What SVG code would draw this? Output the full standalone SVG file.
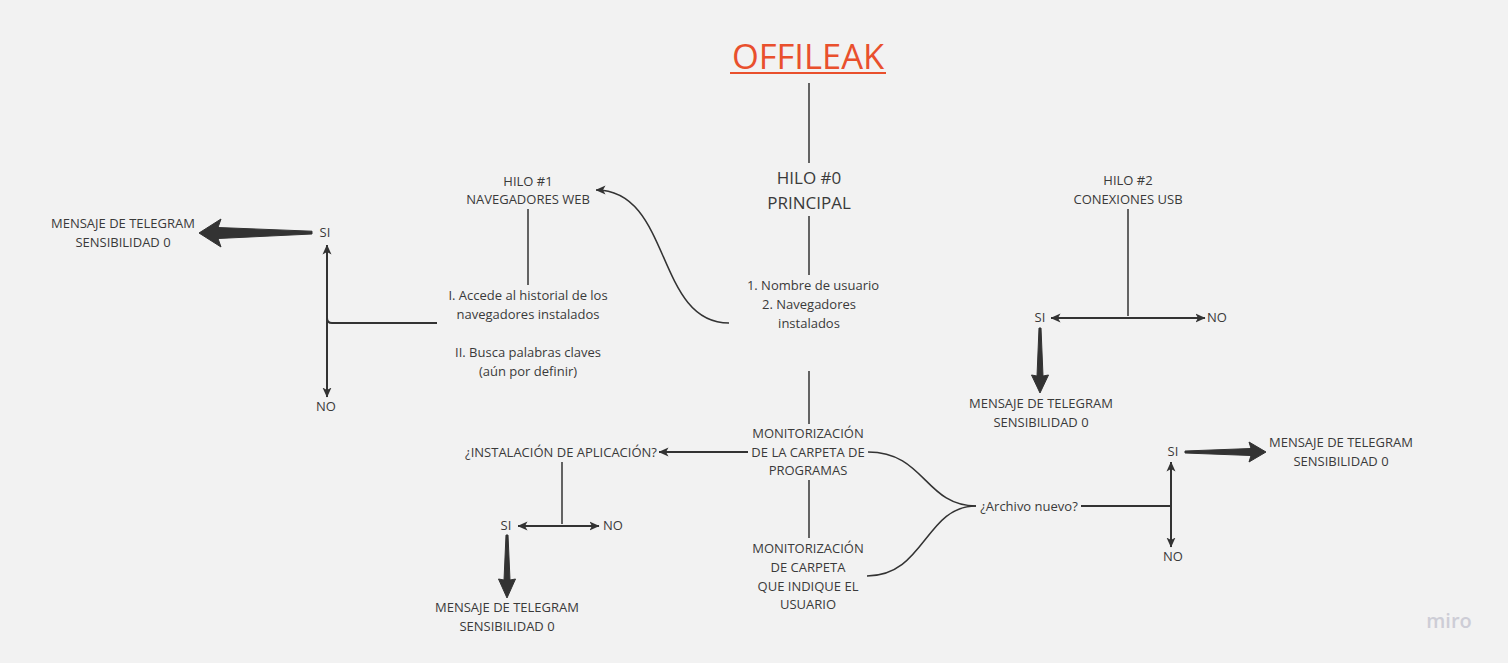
<svg xmlns="http://www.w3.org/2000/svg" width="1508" height="663" viewBox="0 0 1508 663">
<defs>
<marker id="ah" viewBox="0 0 10 10" refX="9.5" refY="5" markerWidth="10" markerHeight="10" markerUnits="userSpaceOnUse" orient="auto-start-reverse">
<path d="M0,0.5 L10,5 L0,9.5 L2.5,5 Z" fill="#333"/>
</marker>
<style>
text{font-family:"Open Sans","Noto Sans","Liberation Sans",sans-serif;fill:#3a3a3a;text-anchor:middle}
.s{font-size:13px}
.m{font-size:17px}
.ln{stroke:#333;stroke-width:1.5;fill:none}
.ar{stroke:#333;stroke-width:2;fill:none}
.big{fill:#333;stroke:#333;stroke-width:1;stroke-linejoin:round}
</style>
</defs>
<rect width="1508" height="663" fill="#f2f2f2"/>

<g id="connectors">
<line class="ln" x1="809" y1="83" x2="809" y2="163"/>
<line class="ln" x1="809" y1="216" x2="809" y2="275"/>
<line class="ln" x1="809" y1="371" x2="809" y2="424"/>
<line class="ln" x1="809" y1="480" x2="809" y2="538"/>
<path class="ln" d="M729,323 C655,323 672,190 596,190" marker-end="url(#ah)"/>
<line class="ln" x1="528" y1="209" x2="528" y2="285"/>
<path class="ar" d="M327,245 L327,397" marker-start="url(#ah)" marker-end="url(#ah)"/>
<path class="ar" d="M437,323 L332,323 Q327,323 327,318"/>
<path class="big" d="M312,231.2 L218,227.5 L221,219 L199,233 L221,247 L218,238.5 L312,234 Z"/>
<line class="ln" x1="1128" y1="209" x2="1128" y2="316"/>
<path class="ar" d="M1051,318 L1205,318" marker-start="url(#ah)" marker-end="url(#ah)"/>
<path class="big" d="M1039,328 L1037,376 L1031.5,375 L1040,393 L1048.5,375 L1043,376 L1041,328 Z"/>
<path class="ar" d="M748,452 L659,452" marker-end="url(#ah)"/>
<line class="ln" x1="562" y1="462" x2="562" y2="524"/>
<path class="ar" d="M518,526 L599,526" marker-start="url(#ah)" marker-end="url(#ah)"/>
<path class="big" d="M506,535 L504,580 L498.5,579 L507,598 L515.5,579 L510,580 L508,535 Z"/>
<path class="ln" d="M868,452 C925,452 925,506 976,506"/>
<path class="ln" d="M867,576 C925,576 925,506 976,506"/>
<line class="ar" x1="1081" y1="506" x2="1171" y2="506"/>
<path class="ar" d="M1171,462 L1171,547" marker-start="url(#ah)" marker-end="url(#ah)"/>
<path class="big" d="M1185,451 L1251,448.5 L1249,442 L1266,452 L1249,462 L1251,455.5 L1185,453 Z"/>
</g>

<g id="title">
<text x="808" y="69" style="font-size:34.5px;fill:#e9502d">OFFILEAK</text>
<line x1="730" y1="73" x2="886" y2="73" stroke="#e9502d" stroke-width="2"/>
</g>
<g id="hilo0">
<text class="m" x="809" y="184">HILO #0</text>
<text class="m" x="809" y="209">PRINCIPAL</text>
</g>
<g id="hilo0-items">
<text class="s" x="813" y="290">1. Nombre de usuario</text>
<text class="s" x="809" y="309">2. Navegadores</text>
<text class="s" x="809" y="328">instalados</text>
</g>
<g id="hilo1">
<text class="s" x="528" y="186">HILO #1</text>
<text class="s" x="528" y="204">NAVEGADORES WEB</text>
</g>
<g id="hilo1-steps">
<text class="s" x="528" y="300">I. Accede al historial de los</text>
<text class="s" x="528" y="319">navegadores instalados</text>
<text class="s" x="528" y="357">II. Busca palabras claves</text>
<text class="s" x="528" y="376">(aún por definir)</text>
</g>
<g id="si1"><text class="s" x="325" y="237">SI</text></g>
<g id="no1"><text class="s" x="326" y="411">NO</text></g>
<g id="msg1">
<text class="s" x="123" y="228">MENSAJE DE TELEGRAM</text>
<text class="s" x="123" y="247">SENSIBILIDAD 0</text>
</g>
<g id="hilo2">
<text class="s" x="1128" y="185">HILO #2</text>
<text class="s" x="1128" y="204">CONEXIONES USB</text>
</g>
<g id="si2"><text class="s" x="1040" y="322">SI</text></g>
<g id="no2"><text class="s" x="1217" y="322">NO</text></g>
<g id="msg2">
<text class="s" x="1041" y="408">MENSAJE DE TELEGRAM</text>
<text class="s" x="1041" y="427">SENSIBILIDAD 0</text>
</g>
<g id="mon-programas">
<text class="s" x="808" y="438">MONITORIZACIÓN</text>
<text class="s" x="808" y="457">DE LA CARPETA DE</text>
<text class="s" x="808" y="475">PROGRAMAS</text>
</g>
<g id="instalacion"><text class="s" x="561" y="457">¿INSTALACIÓN DE APLICACIÓN?</text></g>
<g id="si3"><text class="s" x="506" y="530">SI</text></g>
<g id="no3"><text class="s" x="613" y="530">NO</text></g>
<g id="msg3">
<text class="s" x="507" y="612">MENSAJE DE TELEGRAM</text>
<text class="s" x="507" y="631">SENSIBILIDAD 0</text>
</g>
<g id="mon-usuario">
<text class="s" x="808" y="553">MONITORIZACIÓN</text>
<text class="s" x="808" y="572">DE CARPETA</text>
<text class="s" x="808" y="591">QUE INDIQUE EL</text>
<text class="s" x="808" y="609">USUARIO</text>
</g>
<g id="archivo"><text class="s" x="1029" y="511">¿Archivo nuevo?</text></g>
<g id="si4"><text class="s" x="1173" y="456">SI</text></g>
<g id="no4"><text class="s" x="1173" y="561">NO</text></g>
<g id="msg4">
<text class="s" x="1341" y="447">MENSAJE DE TELEGRAM</text>
<text class="s" x="1341" y="466">SENSIBILIDAD 0</text>
</g>
<g id="watermark"><text x="1449" y="628" style="font-size:20px;font-weight:600;fill:#cdcdd6;font-family:'Open Sans','Liberation Sans',sans-serif">miro</text></g>
</svg>
